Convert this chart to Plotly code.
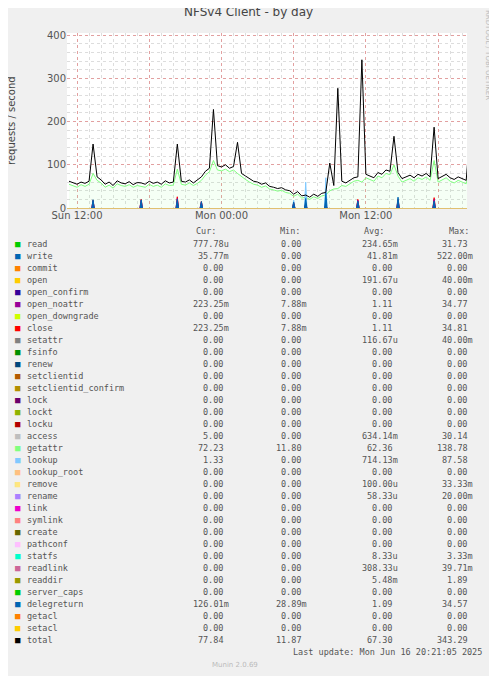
import plotly.graph_objects as go

# hours since Sun 12:00, one sample every 20 minutes
total = [62, 58, 55, 60, 57, 62, 148, 72, 65,
         55, 60, 52, 63, 58, 56, 61, 54, 59,
         58, 55, 62, 57, 60, 55, 63, 58, 60,
         148, 62, 60, 65, 58, 64, 72, 85, 92,
         228, 98, 95, 100, 92, 96, 152, 80, 74,
         68, 62, 60, 55, 58, 50, 48, 45, 47,
         42, 40, 32, 38, 28, 30, 25, 32, 27,
         34, 36, 104, 52, 277, 62, 58, 64, 70,
         72, 343, 78, 74, 70, 82, 78, 88, 85,
         166, 82, 68, 72, 76, 70, 78, 74, 80,
         72, 187, 68, 74, 78, 70, 66, 72, 68,
         64, 182, 70, 66, 72, 68, 62, 80, 76]
getattr_rate = [55, 52, 48, 54, 50, 55, 80, 64, 58,
                48, 53, 46, 56, 52, 50, 54, 48, 52,
                50, 48, 55, 50, 53, 48, 56, 52, 53,
                90, 55, 53, 58, 52, 57, 64, 76, 84,
                110, 88, 86, 90, 84, 88, 80, 72, 66,
                60, 55, 53, 48, 51, 44, 42, 39, 41,
                36, 34, 27, 32, 23, 25, 20, 26, 22,
                28, 30, 40, 44, 45, 52, 50, 56, 62,
                64, 60, 70, 66, 62, 74, 70, 80, 77,
                100, 74, 60, 64, 68, 62, 70, 66, 72,
                64, 110, 60, 66, 70, 62, 58, 64, 60,
                56, 100, 62, 58, 64, 60, 54, 72, 68]
t0 = -2 / 3
step = 1 / 3

# small spikes near the bottom (hour, value)
spike_hours = [1.33, 5.33, 8.33, 10.33, 18.0, 19.0, 20.67, 23.33, 26.67, 29.67]
access_spk = [4, 3, 6, 4, 8, 10, 6, 5, 6, 8]
lookup_spk = [8, 6, 10, 8, 18, 60, 70, 15, 12, 14]
close_spk = [18, 20, 26, 15, 12, 10, 8, 20, 20, 24]
noattr_spk = [16, 18, 22, 14, 10, 8, 6, 18, 18, 20]
deleg_spk = [19, 19, 20, 15, 14, 22, 35, 16, 25, 16]

names = ["read", "write", "commit", "open", "open_confirm", "open_noattr", "open_downgrade",
         "close", "setattr", "fsinfo", "renew", "setclientid", "setclientid_confirm", "lock",
         "lockt", "locku", "access", "getattr", "lookup", "lookup_root", "remove", "rename",
         "link", "symlink", "create", "pathconf", "statfs", "readlink", "readdir",
         "server_caps", "delegreturn", "getacl", "setacl", "total"]
colors = ["#00CC00", "#0066B3", "#FF8000", "#FFCC00", "#330099", "#990099", "#CCFF00",
          "#FF0000", "#808080", "#008F00", "#00487D", "#B35A00", "#B38F00", "#6B006B",
          "#8FB300", "#B30000", "#BEBEBE", "#80FF80", "#80C9FF", "#FFC080", "#FFE680",
          "#AA80FF", "#EE00CC", "#FF8080", "#666600", "#FFBFFF", "#00FFCC", "#CC6699",
          "#999900", "#00CC00", "#0066B3", "#FF8000", "#FFCC00", "#000000"]
cur = ["777.78u", "35.77m", "0.00", "0.00", "0.00", "223.25m", "0.00", "223.25m", "0.00",
       "0.00", "0.00", "0.00", "0.00", "0.00", "0.00", "0.00", "5.00", "72.23", "1.33",
       "0.00", "0.00", "0.00", "0.00", "0.00", "0.00", "0.00", "0.00", "0.00", "0.00",
       "0.00", "126.01m", "0.00", "0.00", "77.84"]
mins = ["0.00", "0.00", "0.00", "0.00", "0.00", "7.88m", "0.00", "7.88m", "0.00",
        "0.00", "0.00", "0.00", "0.00", "0.00", "0.00", "0.00", "0.00", "11.80", "0.00",
        "0.00", "0.00", "0.00", "0.00", "0.00", "0.00", "0.00", "0.00", "0.00", "0.00",
        "0.00", "28.89m", "0.00", "0.00", "11.87"]
avgs = ["234.65m", "41.81m", "0.00", "191.67u", "0.00", "1.11", "0.00", "1.11", "116.67u",
        "0.00", "0.00", "0.00", "0.00", "0.00", "0.00", "0.00", "634.14m", "62.36",
        "714.13m", "0.00", "100.00u", "58.33u", "0.00", "0.00", "0.00", "0.00", "8.33u",
        "308.33u", "5.48m", "0.00", "1.09", "0.00", "0.00", "67.30"]
maxs = ["31.73", "522.00m", "0.00", "40.00m", "0.00", "34.77", "0.00", "34.81", "40.00m",
        "0.00", "0.00", "0.00", "0.00", "0.00", "0.00", "0.00", "30.14", "138.78", "87.58",
        "0.00", "33.33m", "20.00m", "0.00", "0.00", "0.00", "0.00", "3.33m", "39.71m",
        "1.89", "0.00", "34.57", "0.00", "0.00", "343.29"]

tick_vals = [0, 6, 12, 18, 24, 30]
tick_text = ["Sun 12:00", "", "Mon 00:00", "", "Mon 12:00", ""]

OFF = 8  # page body margin
W, H = 497 - OFF, 676 - OFF
L, R, T, B = 67 - OFF, 467 - OFF, 33 - OFF, 208 - OFF


def px(x):
    return (x - OFF - L) / (R - L)


def py(y):
    return (B - (y - OFF)) / (B - T)


ts = [t0 + i * step for i in range(len(total))]

fig = go.Figure()
fig.add_trace(go.Scatter(x=ts, y=getattr_rate, mode="lines", fill="tozeroy",
                         line=dict(color="#80FF80", width=1), fillcolor="rgba(128,255,128,0.08)"))
spikes = [(access_spk, "#BEBEBE"), (lookup_spk, "#80C9FF"), (close_spk, "#FF0000"),
          (noattr_spk, "#990099"), (deleg_spk, "#0066B3")]
for vals, c in spikes:
    for h, v in zip(spike_hours, vals):
        fig.add_trace(go.Scatter(x=[h - 0.1, h, h + 0.1], y=[0, v, 0], mode="lines",
                                 fill="toself", line=dict(color=c, width=1), fillcolor=c))
fig.add_trace(go.Scatter(x=ts, y=total, mode="lines", line=dict(color="black", width=1)))

ann = []
mono = "DejaVu Sans Mono"
fs = 8.5
gray = "#555555"


def text(x, y, s, anchor="left", color=gray, size=fs, family=mono, angle=0):
    ann.append(dict(x=px(x), y=py(y), xref="paper", yref="paper", text=s, showarrow=False,
                    xanchor=anchor, yanchor="middle", textangle=angle,
                    font=dict(family=family, size=size, color=color)))


for hdr, xr in [("Cur:", 218), ("Min:", 302), ("Avg:", 386), ("Max:", 471)]:
    text(xr, 231, hdr, "right")


def fmt(s):
    return s if s[-1].isalpha() else s + " "


for i, n in enumerate(names):
    y = 244 + 12 * i
    text(13, y, "■", color=colors[i], size=9)
    text(25, y, n)
    text(231, y, fmt(cur[i]), "right")
    text(309, y, fmt(mins[i]), "right")
    text(400, y, fmt(avgs[i]), "right")
    text(475, y, fmt(maxs[i]), "right")

text(248, 12, "NFSv4 Client - by day", "center", color="#444444", size=12, family="DejaVu Sans")
text(11, 120, "requests / second", "center", color="#444444", size=10, family="DejaVu Sans", angle=-90)
text(488, 55, "RRDTOOL / TOBI OETIKER", "center", color="#BBBBBB", size=7, family="DejaVu Sans", angle=90)
text(484, 652, "Last update: Mon Jun 16 20:21:05 2025", "right")
text(235, 665, "Munin 2.0.69", "center", color="#BBBBBB", size=7, family="DejaVu Sans")

fig.update_layout(
    width=W, height=H, showlegend=False,
    paper_bgcolor="#F0F0F0", plot_bgcolor="white",
    margin=dict(l=L, r=W - R, t=T, b=H - B, pad=0),
    annotations=ann,
    font=dict(family="DejaVu Sans", size=10, color="#555555"),
)
fig.update_xaxes(
    range=[-0.833, 32.4], tickvals=tick_vals, ticktext=tick_text, ticks="",
    showgrid=True, gridcolor="rgba(230,120,120,0.6)", griddash="dot", gridwidth=1,
    minor=dict(dtick=1, tick0=0, showgrid=True, gridcolor="#DDDDDD", griddash="dot"),
    zeroline=False, showline=False, tickfont=dict(size=10),
)
fig.update_yaxes(
    range=[0, 405], tickvals=[0, 100, 200, 300, 400], ticks="",
    showgrid=True, gridcolor="rgba(230,120,120,0.6)", griddash="dot",
    minor=dict(dtick=20, showgrid=True, gridcolor="#DDDDDD", griddash="dot"),
    zeroline=True, zerolinecolor="#E0C070", zerolinewidth=1, tickfont=dict(size=10),
)
fig.write_html("out.html")
